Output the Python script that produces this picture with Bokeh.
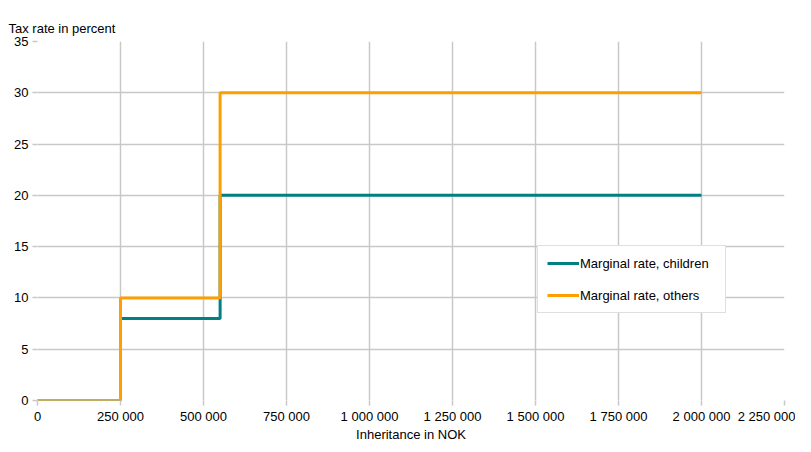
from bokeh.plotting import figure
from bokeh.models import FixedTicker, Range1d, Legend, LegendItem
from bokeh.embed import file_html
from bokeh.resources import INLINE

# Data
thresholds = [0, 250000, 550000, 2000000]
rate_children = [0, 8, 20, 20]
rate_others = [0, 10, 30, 30]
series_names = ["Marginal rate, children", "Marginal rate, others"]
x_ticks = [0, 250000, 500000, 750000, 1000000, 1250000, 1500000, 1750000, 2000000, 2250000]
x_tick_labels = ["0", "250 000", "500 000", "750 000", "1 000 000", "1 250 000",
                 "1 500 000", "1 750 000", "2 000 000", "2 250 000"]
y_ticks = [0, 5, 10, 15, 20, 25, 30, 35]
x_title = "Inheritance in NOK"
y_title = "Tax rate in percent"

FONT = "Liberation Sans"
FS = "13px"
GRID = "#c8c8c8"

p = figure(width=795, height=444, output_backend="svg", toolbar_location=None,
           x_range=Range1d(x_ticks[0], x_ticks[-1]), y_range=Range1d(y_ticks[0], y_ticks[-1]),
           min_border_left=37, min_border_right=11, min_border_top=41, min_border_bottom=10)

p.title.text = y_title
p.title.text_font = FONT
p.title.text_font_size = FS
p.title.text_font_style = "normal"
p.title.text_color = "#000000"
p.title.align = "left"
p.title.offset = -29
p.title.standoff = 12

p.outline_line_color = None

for ax in (p.xaxis[0], p.yaxis[0]):
    ax.axis_line_color = None
    ax.major_tick_line_color = GRID
    ax.major_tick_line_width = 1.5
    ax.major_tick_out = 5
    ax.major_tick_in = 0
    ax.minor_tick_line_color = None
    ax.major_label_text_font = FONT
    ax.major_label_text_font_size = FS
    ax.major_label_text_color = "#000000"

p.xaxis.ticker = FixedTicker(ticks=x_ticks)
p.xaxis.major_label_overrides = {t: l for t, l in zip(x_ticks, x_tick_labels)}
p.xaxis.major_label_standoff = 3
p.xaxis.axis_label = x_title
p.xaxis.axis_label_text_font = FONT
p.xaxis.axis_label_text_font_size = FS
p.xaxis.axis_label_text_font_style = "normal"
p.xaxis.axis_label_text_color = "#000000"
p.xaxis.axis_label_standoff = 0

p.yaxis.ticker = FixedTicker(ticks=y_ticks)
p.yaxis.major_label_standoff = 4

p.xgrid.ticker = FixedTicker(ticks=x_ticks)
p.ygrid.ticker = FixedTicker(ticks=y_ticks)
for g in (p.xgrid[0], p.ygrid[0]):
    g.grid_line_color = GRID
    g.grid_line_width = 1.5

r1 = p.step(thresholds, rate_children, mode="after", line_color="#008080", line_width=3)
r2 = p.step(thresholds, rate_others, mode="after", line_color="#ff9e00", line_width=3)

legend = Legend(items=[LegendItem(label=series_names[0], renderers=[r1]),
                       LegendItem(label=series_names[1], renderers=[r2])],
                location=(500, 87))
legend.border_line_color = "#c0c0c0"
legend.border_line_width = 1.5
legend.label_text_font = FONT
legend.label_text_font_size = FS
legend.label_text_color = "#000000"
legend.glyph_width = 32
legend.glyph_height = 16
legend.label_height = 16
legend.label_width = 136
legend.label_standoff = 1
legend.spacing = 16
legend.padding = 9
legend.margin = 0
legend.background_fill_alpha = 1
p.add_layout(legend, "center")

open("out.html", "w").write(file_html(p, INLINE))
